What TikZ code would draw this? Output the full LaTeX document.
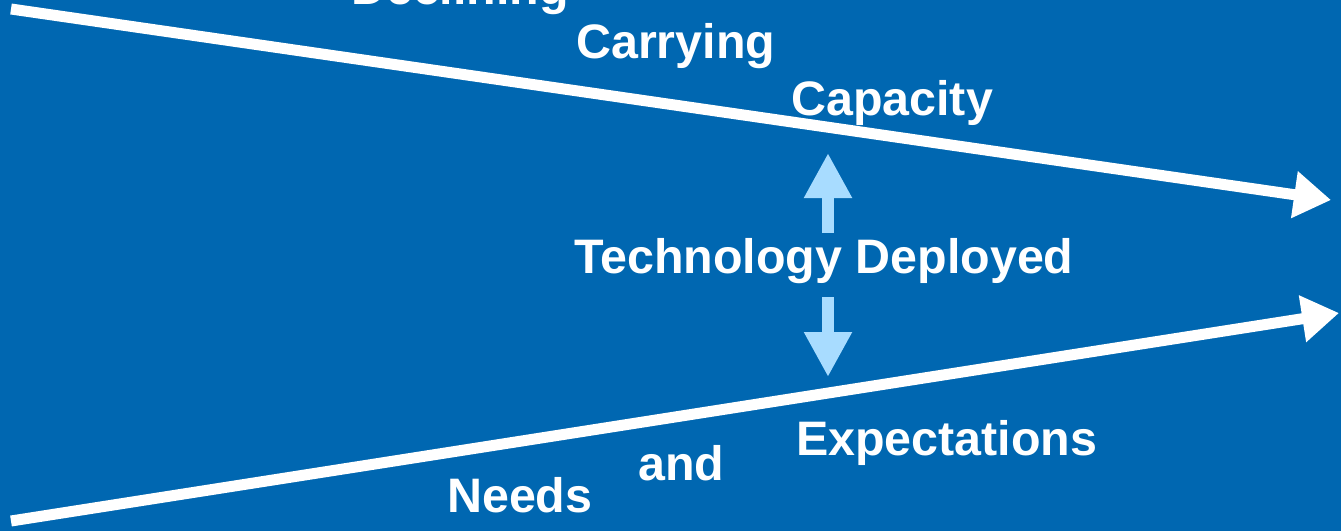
\documentclass[tikz,border=0pt]{standalone}
\usepackage{fontspec}
\setmainfont{Liberation Sans}
\usetikzlibrary{arrows.meta}
\definecolor{bgblue}{RGB}{0,103,177}
\definecolor{lightarrow}{RGB}{168,220,255}
\tikzset{
  lbl/.style={anchor=base west, inner sep=0pt, text=white, font=\bfseries\fontsize{48.4}{58}\selectfont},
  bigarrow/.style={draw=white, line width=11pt, -{Triangle[length=37pt,width=45pt]}},
  techarrow/.style={draw=lightarrow, line width=12pt, -{Triangle[length=45pt,width=45pt]}}
}
\begin{document}
\begin{tikzpicture}[x=1pt,y=-1pt]
\fill[bgblue] (0,0) rectangle (1341,531);
\useasboundingbox (0,0) rectangle (1341,531);
% white trend arrows
\coordinate (topstart) at (11,9);
\coordinate (topend) at (1331,200);
\coordinate (botstart) at (11,521);
\coordinate (botend) at (1339,313);
\draw[bigarrow] (topstart) -- (topend);
\draw[bigarrow] (botstart) -- (botend);
% labels
\node[lbl] (declining) at (351,4) {Declining};
\node[lbl] (carrying) at (576,58) {Carrying};
\node[lbl] (capacity) at (791,115) {Capacity};
\node[lbl] (tech) at (574,273) {Technology Deployed};
\node[lbl] (expect) at (796,455) {Expectations};
\node[lbl] (and) at (638,480) {and};
\node[lbl] (needs) at (447,512) {Needs};
% light blue arrows
\coordinate (upbase) at (828,233);
\coordinate (uptip) at (828,153);
\coordinate (downbase) at (828,297);
\coordinate (downtip) at (828,377);
\draw[techarrow] (upbase) -- (uptip);
\draw[techarrow] (downbase) -- (downtip);
\end{tikzpicture}
\end{document}
